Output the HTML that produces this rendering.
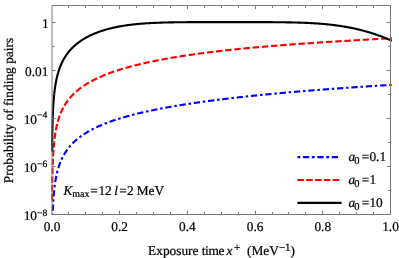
<!DOCTYPE html>
<html><head><meta charset="utf-8"><title>plot</title>
<style>
html,body{margin:0;padding:0;background:#fff;}
body{width:399px;height:258px;overflow:hidden;position:relative;}
svg{position:absolute;left:0;top:0;display:block;will-change:transform;}
text{font-family:"Liberation Serif",serif;fill:#000;stroke:#000;stroke-width:0.22px;text-rendering:geometricPrecision;}
.t{font-size:13px;}
.s{font-size:9.2px;}
.i{font-style:italic;}
</style></head><body>
<svg width="399" height="258" viewBox="0 0 399 258">
<defs><clipPath id="c"><rect x="51" y="5.5" width="340.90" height="209.0"/></clipPath></defs>
<rect width="399" height="258" fill="#fff"/>

<g clip-path="url(#c)" fill="none" stroke-width="2.13" stroke-linejoin="round">
<path d="M52.52,220.12 L52.54,219.21 L52.57,218.30 L52.59,217.40 L52.62,216.49 L52.65,215.58 L52.68,214.67 L52.71,213.77 L52.74,212.86 L52.77,211.95 L52.81,211.04 L52.84,210.14 L52.88,209.23 L52.92,208.32 L52.96,207.42 L53.00,206.51 L53.05,205.60 L53.09,204.69 L53.14,203.79 L53.19,202.88 L53.24,201.97 L53.30,201.07 L53.36,200.16 L53.42,199.25 L53.48,198.34 L53.55,197.44 L53.61,196.53 L53.69,195.62 L53.76,194.72 L53.84,193.81 L53.92,192.90 L54.01,191.99 L54.09,191.09 L54.19,190.18 L54.28,189.27 L54.39,188.37 L54.49,187.46 L54.60,186.55 L54.72,185.64 L54.84,184.74 L54.97,183.83 L55.10,182.92 L55.23,182.02 L55.38,181.11 L55.53,180.20 L55.68,179.29 L55.85,178.39 L56.02,177.48 L56.20,176.57 L56.38,175.67 L56.58,174.76 L56.78,173.85 L56.99,172.94 L57.22,172.04 L57.45,171.13 L57.69,170.22 L57.94,169.32 L58.21,168.41 L58.48,167.50 L58.77,166.59 L59.43,164.64 L60.10,162.85 L60.76,161.20 L61.43,159.68 L62.09,158.25 L62.76,156.92 L63.42,155.67 L64.09,154.49 L64.75,153.37 L65.42,152.31 L66.08,151.30 L66.75,150.34 L67.41,149.42 L68.07,148.53 L68.74,147.69 L69.40,146.87 L70.07,146.09 L70.73,145.34 L71.40,144.61 L72.06,143.91 L72.73,143.23 L73.39,142.57 L74.06,141.93 L74.72,141.31 L75.39,140.71 L76.05,140.12 L76.72,139.55 L77.38,139.00 L78.05,138.46 L78.71,137.93 L79.37,137.42 L80.04,136.92 L80.70,136.43 L81.37,135.95 L82.03,135.48 L82.70,135.03 L83.36,134.58 L84.03,134.14 L84.69,133.71 L85.36,133.29 L86.02,132.88 L86.69,132.47 L87.35,132.08 L88.02,131.69 L88.68,131.31 L89.34,130.93 L90.01,130.56 L90.67,130.20 L91.34,129.85 L92.00,129.50 L92.67,129.15 L93.33,128.81 L94.00,128.48 L94.66,128.15 L95.33,127.83 L95.99,127.51 L96.66,127.20 L97.32,126.89 L97.99,126.59 L98.65,126.29 L99.32,125.99 L99.98,125.70 L100.64,125.41 L101.31,125.13 L101.97,124.85 L102.64,124.57 L103.30,124.30 L103.97,124.03 L104.63,123.77 L105.30,123.51 L105.96,123.25 L106.63,122.99 L107.29,122.74 L107.96,122.49 L108.62,122.24 L109.29,122.00 L109.95,121.76 L110.61,121.52 L111.28,121.28 L111.94,121.05 L112.61,120.82 L113.27,120.59 L113.94,120.37 L114.60,120.14 L115.27,119.92 L115.93,119.71 L116.60,119.49 L117.26,119.28 L117.93,119.06 L118.59,118.86 L119.26,118.65 L119.92,118.44 L120.59,118.24 L121.25,118.04 L121.91,117.84 L122.58,117.64 L123.24,117.45 L123.91,117.25 L124.57,117.06 L125.24,116.87 L125.90,116.68 L126.57,116.49 L127.23,116.31 L127.90,116.12 L128.56,115.94 L129.23,115.76 L129.89,115.58 L130.56,115.41 L131.22,115.23 L131.89,115.05 L132.55,114.88 L133.21,114.71 L133.88,114.54 L134.54,114.37 L135.21,114.20 L135.87,114.04 L136.54,113.87 L137.20,113.71 L137.87,113.55 L138.53,113.39 L139.20,113.23 L139.86,113.07 L140.53,112.91 L141.19,112.75 L141.86,112.60 L142.52,112.44 L143.18,112.29 L143.85,112.14 L144.51,111.99 L145.18,111.84 L145.84,111.69 L146.51,111.54 L147.17,111.40 L147.84,111.25 L148.50,111.11 L149.17,110.97 L149.83,110.82 L150.50,110.68 L151.16,110.54 L151.83,110.40 L152.49,110.26 L153.16,110.13 L153.82,109.99 L154.48,109.85 L155.15,109.72 L155.81,109.58 L156.48,109.45 L157.14,109.32 L157.81,109.19 L158.47,109.06 L159.14,108.93 L159.80,108.80 L160.47,108.67 L161.13,108.54 L161.80,108.41 L162.46,108.29 L163.13,108.16 L163.79,108.04 L164.45,107.91 L165.12,107.79 L165.78,107.67 L166.45,107.55 L167.11,107.43 L167.78,107.31 L168.44,107.19 L169.11,107.07 L169.77,106.95 L170.44,106.83 L171.10,106.72 L171.77,106.60 L172.43,106.48 L173.10,106.37 L173.76,106.25 L174.43,106.14 L175.09,106.03 L175.75,105.91 L176.42,105.80 L177.08,105.69 L177.75,105.58 L178.41,105.47 L179.08,105.36 L179.74,105.25 L180.41,105.14 L181.07,105.04 L181.74,104.93 L182.40,104.82 L183.07,104.72 L183.73,104.61 L184.40,104.51 L185.06,104.40 L185.73,104.30 L186.39,104.19 L187.05,104.09 L187.72,103.99 L188.38,103.89 L189.05,103.78 L189.71,103.68 L190.38,103.58 L191.04,103.48 L191.71,103.38 L192.37,103.28 L193.04,103.19 L193.70,103.09 L194.37,102.99 L195.03,102.89 L195.70,102.80 L196.36,102.70 L197.02,102.60 L197.69,102.51 L198.35,102.41 L199.02,102.32 L199.68,102.22 L200.35,102.13 L201.01,102.04 L201.68,101.94 L202.34,101.85 L203.01,101.76 L203.67,101.67 L204.34,101.58 L205.00,101.49 L205.67,101.39 L206.33,101.30 L207.00,101.21 L207.66,101.13 L208.32,101.04 L208.99,100.95 L209.65,100.86 L210.32,100.77 L210.98,100.68 L211.65,100.60 L212.31,100.51 L212.98,100.42 L213.64,100.34 L214.31,100.25 L214.97,100.17 L215.64,100.08 L216.30,100.00 L216.97,99.91 L217.63,99.83 L218.29,99.75 L218.96,99.66 L219.62,99.58 L220.29,99.50 L220.95,99.41 L221.62,99.33 L222.28,99.25 L222.95,99.17 L223.61,99.09 L224.28,99.01 L224.94,98.93 L225.61,98.85 L226.27,98.77 L226.94,98.69 L227.60,98.61 L228.27,98.53 L228.93,98.45 L229.59,98.37 L230.26,98.29 L230.92,98.22 L231.59,98.14 L232.25,98.06 L232.92,97.99 L233.58,97.91 L234.25,97.83 L234.91,97.76 L235.58,97.68 L236.24,97.61 L236.91,97.53 L237.57,97.46 L238.24,97.38 L238.90,97.31 L239.57,97.23 L240.23,97.16 L240.89,97.08 L241.56,97.01 L242.22,96.94 L242.89,96.87 L243.55,96.79 L244.22,96.72 L244.88,96.65 L245.55,96.58 L246.21,96.50 L246.88,96.43 L247.54,96.36 L248.21,96.29 L248.87,96.22 L249.54,96.15 L250.20,96.08 L250.86,96.01 L251.53,95.94 L252.19,95.87 L252.86,95.80 L253.52,95.73 L254.19,95.66 L254.85,95.60 L255.52,95.53 L256.18,95.46 L256.85,95.39 L257.51,95.32 L258.18,95.26 L258.84,95.19 L259.51,95.12 L260.17,95.06 L260.84,94.99 L261.50,94.92 L262.16,94.86 L262.83,94.79 L263.49,94.72 L264.16,94.66 L264.82,94.59 L265.49,94.53 L266.15,94.46 L266.82,94.40 L267.48,94.33 L268.15,94.27 L268.81,94.21 L269.48,94.14 L270.14,94.08 L270.81,94.02 L271.47,93.95 L272.13,93.89 L272.80,93.83 L273.46,93.76 L274.13,93.70 L274.79,93.64 L275.46,93.58 L276.12,93.51 L276.79,93.45 L277.45,93.39 L278.12,93.33 L278.78,93.27 L279.45,93.21 L280.11,93.15 L280.78,93.08 L281.44,93.02 L282.11,92.96 L282.77,92.90 L283.43,92.84 L284.10,92.78 L284.76,92.72 L285.43,92.66 L286.09,92.61 L286.76,92.55 L287.42,92.49 L288.09,92.43 L288.75,92.37 L289.42,92.31 L290.08,92.25 L290.75,92.19 L291.41,92.14 L292.08,92.08 L292.74,92.02 L293.41,91.96 L294.07,91.91 L294.73,91.85 L295.40,91.79 L296.06,91.73 L296.73,91.68 L297.39,91.62 L298.06,91.56 L298.72,91.51 L299.39,91.45 L300.05,91.40 L300.72,91.34 L301.38,91.28 L302.05,91.23 L302.71,91.17 L303.38,91.12 L304.04,91.06 L304.70,91.01 L305.37,90.95 L306.03,90.90 L306.70,90.84 L307.36,90.79 L308.03,90.73 L308.69,90.68 L309.36,90.63 L310.02,90.57 L310.69,90.52 L311.35,90.47 L312.02,90.41 L312.68,90.36 L313.35,90.31 L314.01,90.25 L314.68,90.20 L315.34,90.15 L316.00,90.09 L316.67,90.04 L317.33,89.99 L318.00,89.94 L318.66,89.88 L319.33,89.83 L319.99,89.78 L320.66,89.73 L321.32,89.68 L321.99,89.63 L322.65,89.57 L323.32,89.52 L323.98,89.47 L324.65,89.42 L325.31,89.37 L325.97,89.32 L326.64,89.27 L327.30,89.22 L327.97,89.17 L328.63,89.12 L329.30,89.07 L329.96,89.02 L330.63,88.97 L331.29,88.92 L331.96,88.87 L332.62,88.82 L333.29,88.77 L333.95,88.72 L334.62,88.67 L335.28,88.62 L335.95,88.57 L336.61,88.52 L337.27,88.48 L337.94,88.43 L338.60,88.38 L339.27,88.33 L339.93,88.28 L340.60,88.23 L341.26,88.19 L341.93,88.14 L342.59,88.09 L343.26,88.04 L343.92,88.00 L344.59,87.95 L345.25,87.90 L345.92,87.85 L346.58,87.81 L347.25,87.76 L347.91,87.71 L348.57,87.67 L349.24,87.62 L349.90,87.57 L350.57,87.53 L351.23,87.48 L351.90,87.43 L352.56,87.39 L353.23,87.34 L353.89,87.29 L354.56,87.25 L355.22,87.20 L355.89,87.16 L356.55,87.11 L357.22,87.07 L357.88,87.02 L358.54,86.97 L359.21,86.93 L359.87,86.88 L360.54,86.84 L361.20,86.79 L361.87,86.75 L362.53,86.70 L363.20,86.66 L363.86,86.62 L364.53,86.57 L365.19,86.53 L365.86,86.48 L366.52,86.44 L367.19,86.39 L367.85,86.35 L368.52,86.31 L369.18,86.26 L369.84,86.22 L370.51,86.18 L371.17,86.13 L371.84,86.09 L372.50,86.04 L373.17,86.00 L373.83,85.96 L374.50,85.92 L375.16,85.87 L375.83,85.83 L376.49,85.79 L377.16,85.74 L377.82,85.70 L378.49,85.66 L379.15,85.62 L379.81,85.57 L380.48,85.53 L381.14,85.49 L381.81,85.45 L382.47,85.41 L383.14,85.36 L383.80,85.32 L384.47,85.28 L385.13,85.24 L385.80,85.20 L386.46,85.15 L387.13,85.11 L387.79,85.07 L388.46,85.03 L389.12,84.99 L389.79,84.95 L390.45,84.91 L391.13,84.87 L391.97,84.81" stroke="#0000ff" stroke-dasharray="6.3 2.8 2.5 2.8" stroke-dashoffset="5.11"/>
<path d="M52.14,200.16 L52.14,199.25 L52.15,198.34 L52.15,197.43 L52.16,196.53 L52.17,195.62 L52.18,194.71 L52.18,193.81 L52.19,192.90 L52.20,191.99 L52.21,191.08 L52.22,190.18 L52.23,189.27 L52.24,188.36 L52.25,187.45 L52.26,186.55 L52.27,185.64 L52.28,184.73 L52.30,183.82 L52.31,182.92 L52.32,182.01 L52.34,181.10 L52.35,180.20 L52.37,179.29 L52.38,178.38 L52.40,177.47 L52.42,176.57 L52.44,175.66 L52.46,174.75 L52.48,173.84 L52.50,172.94 L52.52,172.03 L52.54,171.12 L52.57,170.21 L52.59,169.31 L52.62,168.40 L52.65,167.49 L52.68,166.58 L52.71,165.67 L52.74,164.77 L52.77,163.86 L52.81,162.95 L52.84,162.04 L52.88,161.14 L52.92,160.23 L52.96,159.32 L53.00,158.41 L53.05,157.50 L53.09,156.60 L53.14,155.69 L53.19,154.78 L53.24,153.87 L53.30,152.96 L53.36,152.06 L53.42,151.15 L53.48,150.24 L53.55,149.33 L53.61,148.42 L53.69,147.51 L53.76,146.61 L53.84,145.70 L53.92,144.79 L54.01,143.88 L54.09,142.97 L54.19,142.06 L54.28,141.15 L54.39,140.25 L54.49,139.34 L54.60,138.43 L54.72,137.52 L54.84,136.61 L54.97,135.70 L55.10,134.79 L55.23,133.88 L55.38,132.97 L55.53,132.06 L55.68,131.15 L55.85,130.24 L56.02,129.33 L56.20,128.42 L56.38,127.51 L56.58,126.60 L56.78,125.69 L56.99,124.78 L57.22,123.87 L57.45,122.96 L57.69,122.05 L57.94,121.14 L58.21,120.23 L58.48,119.31 L58.77,118.40 L59.43,116.44 L60.10,114.64 L60.76,112.98 L61.43,111.44 L62.09,110.01 L62.76,108.67 L63.42,107.41 L64.09,106.22 L64.75,105.09 L65.42,104.02 L66.08,103.00 L66.75,102.03 L67.41,101.10 L68.07,100.20 L68.74,99.35 L69.40,98.53 L70.07,97.74 L70.73,96.97 L71.40,96.23 L72.06,95.52 L72.73,94.83 L73.39,94.17 L74.06,93.52 L74.72,92.89 L75.39,92.28 L76.05,91.69 L76.72,91.11 L77.38,90.55 L78.05,90.00 L78.71,89.46 L79.37,88.94 L80.04,88.43 L80.70,87.94 L81.37,87.45 L82.03,86.98 L82.70,86.51 L83.36,86.06 L84.03,85.61 L84.69,85.17 L85.36,84.75 L86.02,84.33 L86.69,83.92 L87.35,83.51 L88.02,83.12 L88.68,82.73 L89.34,82.35 L90.01,81.97 L90.67,81.60 L91.34,81.24 L92.00,80.88 L92.67,80.53 L93.33,80.19 L94.00,79.85 L94.66,79.52 L95.33,79.19 L95.99,78.86 L96.66,78.54 L97.32,78.23 L97.99,77.92 L98.65,77.62 L99.32,77.31 L99.98,77.02 L100.64,76.73 L101.31,76.44 L101.97,76.15 L102.64,75.87 L103.30,75.59 L103.97,75.32 L104.63,75.05 L105.30,74.78 L105.96,74.52 L106.63,74.26 L107.29,74.00 L107.96,73.75 L108.62,73.50 L109.29,73.25 L109.95,73.00 L110.61,72.76 L111.28,72.52 L111.94,72.28 L112.61,72.05 L113.27,71.82 L113.94,71.59 L114.60,71.36 L115.27,71.14 L115.93,70.92 L116.60,70.70 L117.26,70.48 L117.93,70.27 L118.59,70.05 L119.26,69.84 L119.92,69.63 L120.59,69.43 L121.25,69.22 L121.91,69.02 L122.58,68.82 L123.24,68.62 L123.91,68.43 L124.57,68.23 L125.24,68.04 L125.90,67.85 L126.57,67.66 L127.23,67.47 L127.90,67.28 L128.56,67.10 L129.23,66.92 L129.89,66.74 L130.56,66.56 L131.22,66.38 L131.89,66.20 L132.55,66.03 L133.21,65.86 L133.88,65.68 L134.54,65.51 L135.21,65.34 L135.87,65.18 L136.54,65.01 L137.20,64.85 L137.87,64.68 L138.53,64.52 L139.20,64.36 L139.86,64.20 L140.53,64.04 L141.19,63.89 L141.86,63.73 L142.52,63.58 L143.18,63.42 L143.85,63.27 L144.51,63.12 L145.18,62.97 L145.84,62.82 L146.51,62.67 L147.17,62.53 L147.84,62.38 L148.50,62.24 L149.17,62.09 L149.83,61.95 L150.50,61.81 L151.16,61.67 L151.83,61.53 L152.49,61.39 L153.16,61.26 L153.82,61.12 L154.48,60.99 L155.15,60.85 L155.81,60.72 L156.48,60.59 L157.14,60.45 L157.81,60.32 L158.47,60.19 L159.14,60.07 L159.80,59.94 L160.47,59.81 L161.13,59.68 L161.80,59.56 L162.46,59.43 L163.13,59.31 L163.79,59.19 L164.45,59.07 L165.12,58.94 L165.78,58.82 L166.45,58.70 L167.11,58.58 L167.78,58.47 L168.44,58.35 L169.11,58.23 L169.77,58.12 L170.44,58.00 L171.10,57.89 L171.77,57.77 L172.43,57.66 L173.10,57.55 L173.76,57.44 L174.43,57.32 L175.09,57.21 L175.75,57.10 L176.42,57.00 L177.08,56.89 L177.75,56.78 L178.41,56.67 L179.08,56.57 L179.74,56.46 L180.41,56.35 L181.07,56.25 L181.74,56.15 L182.40,56.04 L183.07,55.94 L183.73,55.84 L184.40,55.74 L185.06,55.64 L185.73,55.53 L186.39,55.44 L187.05,55.34 L187.72,55.24 L188.38,55.14 L189.05,55.04 L189.71,54.94 L190.38,54.85 L191.04,54.75 L191.71,54.66 L192.37,54.56 L193.04,54.47 L193.70,54.37 L194.37,54.28 L195.03,54.19 L195.70,54.09 L196.36,54.00 L197.02,53.91 L197.69,53.82 L198.35,53.73 L199.02,53.64 L199.68,53.55 L200.35,53.46 L201.01,53.37 L201.68,53.29 L202.34,53.20 L203.01,53.11 L203.67,53.02 L204.34,52.94 L205.00,52.85 L205.67,52.77 L206.33,52.68 L207.00,52.60 L207.66,52.51 L208.32,52.43 L208.99,52.35 L209.65,52.26 L210.32,52.18 L210.98,52.10 L211.65,52.02 L212.31,51.94 L212.98,51.86 L213.64,51.78 L214.31,51.70 L214.97,51.62 L215.64,51.54 L216.30,51.46 L216.97,51.38 L217.63,51.30 L218.29,51.23 L218.96,51.15 L219.62,51.07 L220.29,51.00 L220.95,50.92 L221.62,50.84 L222.28,50.77 L222.95,50.69 L223.61,50.62 L224.28,50.55 L224.94,50.47 L225.61,50.40 L226.27,50.33 L226.94,50.25 L227.60,50.18 L228.27,50.11 L228.93,50.04 L229.59,49.96 L230.26,49.89 L230.92,49.82 L231.59,49.75 L232.25,49.68 L232.92,49.61 L233.58,49.54 L234.25,49.47 L234.91,49.40 L235.58,49.34 L236.24,49.27 L236.91,49.20 L237.57,49.13 L238.24,49.06 L238.90,49.00 L239.57,48.93 L240.23,48.86 L240.89,48.80 L241.56,48.73 L242.22,48.67 L242.89,48.60 L243.55,48.54 L244.22,48.47 L244.88,48.41 L245.55,48.34 L246.21,48.28 L246.88,48.21 L247.54,48.15 L248.21,48.09 L248.87,48.03 L249.54,47.96 L250.20,47.90 L250.86,47.84 L251.53,47.78 L252.19,47.72 L252.86,47.65 L253.52,47.59 L254.19,47.53 L254.85,47.47 L255.52,47.41 L256.18,47.35 L256.85,47.29 L257.51,47.23 L258.18,47.17 L258.84,47.11 L259.51,47.05 L260.17,47.00 L260.84,46.94 L261.50,46.88 L262.16,46.82 L262.83,46.76 L263.49,46.71 L264.16,46.65 L264.82,46.59 L265.49,46.54 L266.15,46.48 L266.82,46.42 L267.48,46.37 L268.15,46.31 L268.81,46.25 L269.48,46.20 L270.14,46.14 L270.81,46.09 L271.47,46.03 L272.13,45.98 L272.80,45.92 L273.46,45.87 L274.13,45.82 L274.79,45.76 L275.46,45.71 L276.12,45.66 L276.79,45.60 L277.45,45.55 L278.12,45.50 L278.78,45.44 L279.45,45.39 L280.11,45.34 L280.78,45.29 L281.44,45.23 L282.11,45.18 L282.77,45.13 L283.43,45.08 L284.10,45.03 L284.76,44.98 L285.43,44.93 L286.09,44.88 L286.76,44.82 L287.42,44.77 L288.09,44.72 L288.75,44.67 L289.42,44.62 L290.08,44.57 L290.75,44.53 L291.41,44.48 L292.08,44.43 L292.74,44.38 L293.41,44.33 L294.07,44.28 L294.73,44.23 L295.40,44.18 L296.06,44.13 L296.73,44.09 L297.39,44.04 L298.06,43.99 L298.72,43.94 L299.39,43.90 L300.05,43.85 L300.72,43.80 L301.38,43.75 L302.05,43.71 L302.71,43.66 L303.38,43.61 L304.04,43.57 L304.70,43.52 L305.37,43.47 L306.03,43.43 L306.70,43.38 L307.36,43.34 L308.03,43.29 L308.69,43.24 L309.36,43.20 L310.02,43.15 L310.69,43.11 L311.35,43.06 L312.02,43.02 L312.68,42.97 L313.35,42.93 L314.01,42.88 L314.68,42.84 L315.34,42.80 L316.00,42.75 L316.67,42.71 L317.33,42.66 L318.00,42.62 L318.66,42.57 L319.33,42.53 L319.99,42.49 L320.66,42.44 L321.32,42.40 L321.99,42.36 L322.65,42.31 L323.32,42.27 L323.98,42.23 L324.65,42.19 L325.31,42.14 L325.97,42.10 L326.64,42.06 L327.30,42.01 L327.97,41.97 L328.63,41.93 L329.30,41.89 L329.96,41.85 L330.63,41.80 L331.29,41.76 L331.96,41.72 L332.62,41.68 L333.29,41.64 L333.95,41.60 L334.62,41.55 L335.28,41.51 L335.95,41.47 L336.61,41.43 L337.27,41.39 L337.94,41.35 L338.60,41.31 L339.27,41.27 L339.93,41.22 L340.60,41.18 L341.26,41.14 L341.93,41.10 L342.59,41.06 L343.26,41.02 L343.92,40.98 L344.59,40.94 L345.25,40.90 L345.92,40.86 L346.58,40.82 L347.25,40.78 L347.91,40.74 L348.57,40.70 L349.24,40.66 L349.90,40.62 L350.57,40.58 L351.23,40.54 L351.90,40.50 L352.56,40.46 L353.23,40.42 L353.89,40.38 L354.56,40.34 L355.22,40.30 L355.89,40.26 L356.55,40.22 L357.22,40.19 L357.88,40.15 L358.54,40.11 L359.21,40.07 L359.87,40.03 L360.54,39.99 L361.20,39.95 L361.87,39.91 L362.53,39.87 L363.20,39.83 L363.86,39.79 L364.53,39.76 L365.19,39.72 L365.86,39.68 L366.52,39.64 L367.19,39.60 L367.85,39.56 L368.52,39.52 L369.18,39.49 L369.84,39.45 L370.51,39.41 L371.17,39.37 L371.84,39.33 L372.50,39.29 L373.17,39.25 L373.83,39.22 L374.50,39.18 L375.16,39.14 L375.83,39.10 L376.49,39.06 L377.16,39.02 L377.82,38.99 L378.49,38.95 L379.15,38.91 L379.81,38.87 L380.48,38.83 L381.14,38.80 L381.81,38.76 L382.47,38.72 L383.14,38.68 L383.80,38.64 L384.47,38.60 L385.13,38.57 L385.80,38.53 L386.46,38.49 L387.13,38.45 L387.79,38.41 L388.46,38.38 L389.12,38.34 L389.79,38.30 L390.45,38.26 L391.13,38.22 L391.97,38.17" stroke="#ff0000" stroke-dasharray="6.4 2.355 6.4 2.355 6.4 2.355 6.4 2.355 6.4 2.355 6.4 2.355 6.4 2.355 6.4 2.355 6.4 2.355 6.4 2.355 6.4 2.355 6.45 2.75 6.45 2.75 6.45 2.75 6.45 2.75 6.45 2.75 6.45 2.75 6.45 2.75 6.45 2.75 6.45 2.75 6.45 2.75 6.45 2.75 6.45 2.75 6.45 2.75 6.45 2.75 6.45 2.75 6.45 2.75 6.45 2.75 6.45 2.75 6.45 2.75 6.45 2.75 6.45 2.75 6.45 2.75 6.45 2.75 6.45 2.75 6.45 2.75 6.45 2.75 6.45 2.75 6.45 2.75 6.45 2.75 6.45 2.75 6.45 2.75 6.45 2.75 6.45 2.75 6.45 2.75 6.45 2.75 6.45 2.75 6.45 2.75 6.45 2.75 6.45 2.75 6.45 2.75 6.45 2.75 6.45 2.75 6.45 2.75 6.45 2.75 6.45 2.75"/>
<path d="M52.14,151.54 L52.15,150.63 L52.15,149.73 L52.16,148.82 L52.17,147.91 L52.18,147.01 L52.18,146.10 L52.19,145.19 L52.20,144.28 L52.21,143.38 L52.22,142.47 L52.23,141.56 L52.24,140.65 L52.25,139.75 L52.26,138.84 L52.27,137.93 L52.28,137.02 L52.30,136.12 L52.31,135.21 L52.32,134.30 L52.34,133.39 L52.35,132.49 L52.37,131.58 L52.38,130.67 L52.40,129.76 L52.42,128.86 L52.44,127.95 L52.46,127.04 L52.48,126.13 L52.50,125.23 L52.52,124.32 L52.54,123.41 L52.57,122.50 L52.59,121.60 L52.62,120.69 L52.65,119.78 L52.68,118.87 L52.71,117.96 L52.74,117.06 L52.77,116.15 L52.81,115.24 L52.84,114.33 L52.88,113.42 L52.92,112.52 L52.96,111.61 L53.00,110.70 L53.05,109.79 L53.09,108.88 L53.14,107.98 L53.19,107.07 L53.24,106.16 L53.30,105.25 L53.36,104.34 L53.42,103.44 L53.48,102.53 L53.55,101.62 L53.61,100.71 L53.69,99.80 L53.76,98.89 L53.84,97.98 L53.92,97.08 L54.01,96.17 L54.09,95.26 L54.19,94.35 L54.28,93.44 L54.39,92.53 L54.49,91.62 L54.60,90.71 L54.72,89.80 L54.84,88.90 L54.97,87.99 L55.10,87.08 L55.23,86.17 L55.38,85.26 L55.53,84.35 L55.68,83.44 L55.85,82.53 L56.02,81.62 L56.20,80.71 L56.38,79.80 L56.58,78.89 L56.78,77.98 L56.99,77.07 L57.22,76.16 L57.45,75.25 L57.69,74.34 L57.94,73.43 L58.21,72.52 L58.48,71.61 L58.77,70.71 L59.43,68.74 L60.10,66.95 L60.76,65.30 L61.43,63.78 L62.09,62.35 L62.76,61.02 L63.42,59.77 L64.09,58.59 L64.75,57.48 L65.42,56.42 L66.08,55.42 L66.75,54.46 L67.41,53.55 L68.07,52.68 L68.74,51.84 L69.40,51.04 L70.07,50.27 L70.73,49.53 L71.40,48.81 L72.06,48.12 L72.73,47.46 L73.39,46.82 L74.06,46.20 L74.72,45.60 L75.39,45.01 L76.05,44.45 L76.72,43.90 L77.38,43.37 L78.05,42.86 L78.71,42.36 L79.37,41.87 L80.04,41.40 L80.70,40.94 L81.37,40.49 L82.03,40.05 L82.70,39.63 L83.36,39.21 L84.03,38.81 L84.69,38.41 L85.36,38.03 L86.02,37.66 L86.69,37.29 L87.35,36.93 L88.02,36.58 L88.68,36.24 L89.34,35.91 L90.01,35.58 L90.67,35.27 L91.34,34.96 L92.00,34.65 L92.67,34.36 L93.33,34.07 L94.00,33.78 L94.66,33.50 L95.33,33.23 L95.99,32.97 L96.66,32.71 L97.32,32.45 L97.99,32.20 L98.65,31.96 L99.32,31.72 L99.98,31.49 L100.64,31.26 L101.31,31.04 L101.97,30.82 L102.64,30.61 L103.30,30.40 L103.97,30.19 L104.63,29.99 L105.30,29.79 L105.96,29.60 L106.63,29.41 L107.29,29.23 L107.96,29.05 L108.62,28.87 L109.29,28.70 L109.95,28.53 L110.61,28.37 L111.28,28.20 L111.94,28.05 L112.61,27.89 L113.27,27.74 L113.94,27.59 L114.60,27.44 L115.27,27.30 L115.93,27.16 L116.60,27.03 L117.26,26.89 L117.93,26.76 L118.59,26.64 L119.26,26.51 L119.92,26.39 L120.59,26.27 L121.25,26.16 L121.91,26.04 L122.58,25.93 L123.24,25.82 L123.91,25.72 L124.57,25.61 L125.24,25.51 L125.90,25.41 L126.57,25.32 L127.23,25.22 L127.90,25.13 L128.56,25.04 L129.23,24.95 L129.89,24.87 L130.56,24.78 L131.22,24.70 L131.89,24.62 L132.55,24.55 L133.21,24.47 L133.88,24.40 L134.54,24.33 L135.21,24.26 L135.87,24.19 L136.54,24.12 L137.20,24.06 L137.87,23.99 L138.53,23.93 L139.20,23.87 L139.86,23.81 L140.53,23.76 L141.19,23.70 L141.86,23.65 L142.52,23.60 L143.18,23.54 L143.85,23.50 L144.51,23.45 L145.18,23.40 L145.84,23.36 L146.51,23.31 L147.17,23.27 L147.84,23.23 L148.50,23.19 L149.17,23.15 L149.83,23.11 L150.50,23.07 L151.16,23.04 L151.83,23.00 L152.49,22.97 L153.16,22.94 L153.82,22.91 L154.48,22.88 L155.15,22.85 L155.81,22.82 L156.48,22.79 L157.14,22.76 L157.81,22.74 L158.47,22.71 L159.14,22.69 L159.80,22.66 L160.47,22.64 L161.13,22.62 L161.80,22.60 L162.46,22.58 L163.13,22.56 L163.79,22.54 L164.45,22.52 L165.12,22.50 L165.78,22.49 L166.45,22.47 L167.11,22.45 L167.78,22.44 L168.44,22.42 L169.11,22.41 L169.77,22.40 L170.44,22.38 L171.10,22.37 L171.77,22.36 L172.43,22.35 L173.10,22.34 L173.76,22.32 L174.43,22.31 L175.09,22.30 L175.75,22.29 L176.42,22.29 L177.08,22.28 L177.75,22.27 L178.41,22.26 L179.08,22.25 L179.74,22.25 L180.41,22.24 L181.07,22.23 L181.74,22.23 L182.40,22.22 L183.07,22.21 L183.73,22.21 L184.40,22.20 L185.06,22.20 L185.73,22.19 L186.39,22.19 L187.05,22.18 L187.72,22.18 L188.38,22.17 L189.05,22.17 L189.71,22.17 L190.38,22.16 L191.04,22.16 L191.71,22.16 L192.37,22.15 L193.04,22.15 L193.70,22.15 L194.37,22.15 L195.03,22.14 L195.70,22.14 L196.36,22.14 L197.02,22.14 L197.69,22.13 L198.35,22.13 L199.02,22.13 L199.68,22.13 L200.35,22.13 L201.01,22.13 L201.68,22.12 L202.34,22.12 L203.01,22.12 L203.67,22.12 L204.34,22.12 L205.00,22.12 L205.67,22.12 L206.33,22.12 L207.00,22.11 L207.66,22.11 L208.32,22.11 L208.99,22.11 L209.65,22.11 L210.32,22.11 L210.98,22.11 L211.65,22.11 L212.31,22.11 L212.98,22.11 L213.64,22.11 L214.31,22.11 L214.97,22.11 L215.64,22.11 L216.30,22.11 L216.97,22.11 L217.63,22.11 L218.29,22.10 L218.96,22.10 L219.62,22.10 L220.29,22.10 L220.95,22.10 L221.62,22.10 L222.28,22.10 L222.95,22.10 L223.61,22.10 L224.28,22.10 L224.94,22.10 L225.61,22.10 L226.27,22.10 L226.94,22.10 L227.60,22.10 L228.27,22.10 L228.93,22.10 L229.59,22.10 L230.26,22.10 L230.92,22.10 L231.59,22.10 L232.25,22.10 L232.92,22.10 L233.58,22.10 L234.25,22.10 L234.91,22.10 L235.58,22.10 L236.24,22.10 L236.91,22.10 L237.57,22.10 L238.24,22.10 L238.90,22.10 L239.57,22.10 L240.23,22.10 L240.89,22.11 L241.56,22.11 L242.22,22.11 L242.89,22.11 L243.55,22.11 L244.22,22.11 L244.88,22.11 L245.55,22.11 L246.21,22.11 L246.88,22.11 L247.54,22.11 L248.21,22.11 L248.87,22.11 L249.54,22.11 L250.20,22.11 L250.86,22.11 L251.53,22.11 L252.19,22.11 L252.86,22.12 L253.52,22.12 L254.19,22.12 L254.85,22.12 L255.52,22.12 L256.18,22.12 L256.85,22.12 L257.51,22.12 L258.18,22.12 L258.84,22.13 L259.51,22.13 L260.17,22.13 L260.84,22.13 L261.50,22.13 L262.16,22.14 L262.83,22.14 L263.49,22.14 L264.16,22.14 L264.82,22.14 L265.49,22.15 L266.15,22.15 L266.82,22.15 L267.48,22.15 L268.15,22.16 L268.81,22.16 L269.48,22.16 L270.14,22.17 L270.81,22.17 L271.47,22.18 L272.13,22.18 L272.80,22.18 L273.46,22.19 L274.13,22.19 L274.79,22.20 L275.46,22.20 L276.12,22.21 L276.79,22.21 L277.45,22.22 L278.12,22.23 L278.78,22.23 L279.45,22.24 L280.11,22.25 L280.78,22.25 L281.44,22.26 L282.11,22.27 L282.77,22.28 L283.43,22.28 L284.10,22.29 L284.76,22.30 L285.43,22.31 L286.09,22.32 L286.76,22.33 L287.42,22.34 L288.09,22.35 L288.75,22.37 L289.42,22.38 L290.08,22.39 L290.75,22.40 L291.41,22.42 L292.08,22.43 L292.74,22.45 L293.41,22.46 L294.07,22.48 L294.73,22.49 L295.40,22.51 L296.06,22.53 L296.73,22.54 L297.39,22.56 L298.06,22.58 L298.72,22.60 L299.39,22.62 L300.05,22.64 L300.72,22.67 L301.38,22.69 L302.05,22.71 L302.71,22.74 L303.38,22.76 L304.04,22.79 L304.70,22.81 L305.37,22.84 L306.03,22.87 L306.70,22.90 L307.36,22.93 L308.03,22.96 L308.69,22.99 L309.36,23.02 L310.02,23.06 L310.69,23.09 L311.35,23.13 L312.02,23.17 L312.68,23.20 L313.35,23.24 L314.01,23.28 L314.68,23.32 L315.34,23.37 L316.00,23.41 L316.67,23.45 L317.33,23.50 L318.00,23.55 L318.66,23.60 L319.33,23.64 L319.99,23.70 L320.66,23.75 L321.32,23.80 L321.99,23.86 L322.65,23.91 L323.32,23.97 L323.98,24.03 L324.65,24.09 L325.31,24.15 L325.97,24.21 L326.64,24.28 L327.30,24.34 L327.97,24.41 L328.63,24.48 L329.30,24.55 L329.96,24.62 L330.63,24.70 L331.29,24.77 L331.96,24.85 L332.62,24.93 L333.29,25.01 L333.95,25.09 L334.62,25.17 L335.28,25.26 L335.95,25.35 L336.61,25.44 L337.27,25.53 L337.94,25.62 L338.60,25.71 L339.27,25.81 L339.93,25.91 L340.60,26.01 L341.26,26.11 L341.93,26.21 L342.59,26.32 L343.26,26.43 L343.92,26.54 L344.59,26.65 L345.25,26.76 L345.92,26.88 L346.58,27.00 L347.25,27.12 L347.91,27.24 L348.57,27.36 L349.24,27.49 L349.90,27.62 L350.57,27.75 L351.23,27.88 L351.90,28.02 L352.56,28.16 L353.23,28.30 L353.89,28.44 L354.56,28.58 L355.22,28.73 L355.89,28.88 L356.55,29.03 L357.22,29.18 L357.88,29.34 L358.54,29.49 L359.21,29.65 L359.87,29.82 L360.54,29.98 L361.20,30.15 L361.87,30.32 L362.53,30.49 L363.20,30.67 L363.86,30.84 L364.53,31.02 L365.19,31.20 L365.86,31.39 L366.52,31.58 L367.19,31.77 L367.85,31.96 L368.52,32.15 L369.18,32.35 L369.84,32.55 L370.51,32.75 L371.17,32.96 L371.84,33.17 L372.50,33.38 L373.17,33.59 L373.83,33.81 L374.50,34.03 L375.16,34.25 L375.83,34.47 L376.49,34.70 L377.16,34.93 L377.82,35.16 L378.49,35.39 L379.15,35.63 L379.81,35.87 L380.48,36.11 L381.14,36.36 L381.81,36.61 L382.47,36.86 L383.14,37.12 L383.80,37.37 L384.47,37.63 L385.13,37.90 L385.80,38.16 L386.46,38.43 L387.13,38.70 L387.79,38.98 L388.46,39.25 L389.12,39.53 L389.79,39.82 L390.45,40.10 L391.13,40.40 L391.97,40.77" stroke="#000"/>
</g>
<g fill="none" stroke="#7a7a7a" stroke-width="1">
<rect x="52.0" y="5.5" width="338.50" height="209.00"/>
</g>
<g fill="none" stroke="#7a7a7a" stroke-width="1">
<path d="M68.5,214.5 v-2.4 M68.5,5.5 v2.4"/>
<path d="M85.5,214.5 v-2.4 M85.5,5.5 v2.4"/>
<path d="M102.5,214.5 v-2.4 M102.5,5.5 v2.4"/>
<path d="M119.5,214.5 v-3.6 M119.5,5.5 v3.6"/>
<path d="M136.5,214.5 v-2.4 M136.5,5.5 v2.4"/>
<path d="M153.5,214.5 v-2.4 M153.5,5.5 v2.4"/>
<path d="M170.5,214.5 v-2.4 M170.5,5.5 v2.4"/>
<path d="M187.5,214.5 v-3.6 M187.5,5.5 v3.6"/>
<path d="M204.5,214.5 v-2.4 M204.5,5.5 v2.4"/>
<path d="M221.5,214.5 v-2.4 M221.5,5.5 v2.4"/>
<path d="M238.5,214.5 v-2.4 M238.5,5.5 v2.4"/>
<path d="M255.5,214.5 v-3.6 M255.5,5.5 v3.6"/>
<path d="M272.5,214.5 v-2.4 M272.5,5.5 v2.4"/>
<path d="M288.5,214.5 v-2.4 M288.5,5.5 v2.4"/>
<path d="M305.5,214.5 v-2.4 M305.5,5.5 v2.4"/>
<path d="M322.5,214.5 v-3.6 M322.5,5.5 v3.6"/>
<path d="M339.5,214.5 v-2.4 M339.5,5.5 v2.4"/>
<path d="M356.5,214.5 v-2.4 M356.5,5.5 v2.4"/>
<path d="M373.5,214.5 v-2.4 M373.5,5.5 v2.4"/>
<path d="M52.0,22.5 h3.6 M390.5,22.5 h-3.6"/>
<path d="M52.0,46.5 h2.4 M390.5,46.5 h-2.4"/>
<path d="M52.0,70.5 h3.6 M390.5,70.5 h-3.6"/>
<path d="M52.0,94.5 h2.4 M390.5,94.5 h-2.4"/>
<path d="M52.0,118.5 h3.6 M390.5,118.5 h-3.6"/>
<path d="M52.0,142.5 h2.4 M390.5,142.5 h-2.4"/>
<path d="M52.0,166.5 h3.6 M390.5,166.5 h-3.6"/>
<path d="M52.0,190.5 h2.4 M390.5,190.5 h-2.4"/>
</g>
<g>
<g fill="none" stroke-width="2.13">
<path d="M297.4,157.15 H340.4" stroke="#0000ff" stroke-dasharray="6.25 2.63 2.9 2.62" stroke-dashoffset="8.88"/>
<path d="M297.4,179.95 H341.4" stroke="#ff0000" stroke-dasharray="6.55 2.25"/>
<path d="M297.4,202.9 H341.6" stroke="#000"/>
</g>
<text x="52.00" y="231.20" text-anchor="middle" style="font-size:13.33px;">0.0</text>
<text x="119.70" y="231.20" text-anchor="middle" style="font-size:13.33px;">0.2</text>
<text x="187.40" y="231.20" text-anchor="middle" style="font-size:13.33px;">0.4</text>
<text x="255.10" y="231.20" text-anchor="middle" style="font-size:13.33px;">0.6</text>
<text x="322.80" y="231.20" text-anchor="middle" style="font-size:13.33px;">0.8</text>
<text x="390.50" y="231.20" text-anchor="middle" style="font-size:13.33px;">1.0</text>
<text x="48.75" y="28.00" text-anchor="end" style="font-size:13.33px;">1</text>
<text x="48.30" y="76.00" text-anchor="end" style="font-size:13.33px;">0.01</text>
<text x="23.70" y="124.00" style="font-size:13.33px;">10</text>
<text x="37.10" y="118.00" style="font-size:9.7px;">−4</text>
<text x="23.70" y="172.00" style="font-size:13.33px;">10</text>
<text x="37.10" y="167.00" style="font-size:9.7px;">−6</text>
<text x="23.70" y="220.00" style="font-size:13.33px;">10</text>
<text x="37.10" y="216.00" style="font-size:9.7px;">−8</text>
<text x="148.10" y="255.00" style="font-size:13.33px;">Exposure</text>
<text x="201.80" y="255.00" style="font-size:13.33px;" letter-spacing="-0.38">time</text>
<text x="226.60" y="255.00" style="font-size:13.33px;font-style:italic;">x</text>
<text x="234.00" y="251.00" style="font-size:11px;">+</text>
<text x="247.00" y="255.00" style="font-size:13.33px;">(MeV</text>
<text x="278.90" y="251.00" style="font-size:11px;">−1</text>
<text x="290.50" y="255.00" style="font-size:13.33px;">)</text>
<text transform="translate(13.4,183.3) rotate(-90)" style="font-size:13.33px" textLength="145.5" lengthAdjust="spacing">Probability of finding pairs</text>
<text x="63.60" y="195.20" style="font-size:13.33px;font-style:italic;">K</text>
<text x="72.20" y="196.60" style="font-size:10.0px;">max</text>
<text x="90.20" y="195.20" style="font-size:13.33px;">=</text>
<text x="98.40" y="195.20" style="font-size:13.33px;">12</text>
<text x="114.20" y="195.20" style="font-size:13.33px;font-style:italic;">l</text>
<text x="119.20" y="195.20" style="font-size:13.33px;">=</text>
<text x="126.90" y="195.20" style="font-size:13.33px;">2</text>
<text x="136.70" y="195.20" style="font-size:13.33px;">MeV</text>
<text x="348.40" y="161.40" style="font-size:13.33px;font-style:italic;">a</text>
<text x="354.20" y="163.60" style="font-size:10.5px;">0</text>
<text x="361.80" y="161.40" style="font-size:13.33px;">=</text>
<text x="369.40" y="161.40" style="font-size:13.33px;">0.1</text>
<text x="348.40" y="184.40" style="font-size:13.33px;font-style:italic;">a</text>
<text x="354.20" y="186.60" style="font-size:10.5px;">0</text>
<text x="361.80" y="184.40" style="font-size:13.33px;">=</text>
<text x="369.40" y="184.40" style="font-size:13.33px;">1</text>
<text x="348.40" y="207.40" style="font-size:13.33px;font-style:italic;">a</text>
<text x="354.20" y="209.60" style="font-size:10.5px;">0</text>
<text x="361.80" y="207.40" style="font-size:13.33px;">=</text>
<text x="369.40" y="207.40" style="font-size:13.33px;">10</text>
</g>
</svg></body></html>
